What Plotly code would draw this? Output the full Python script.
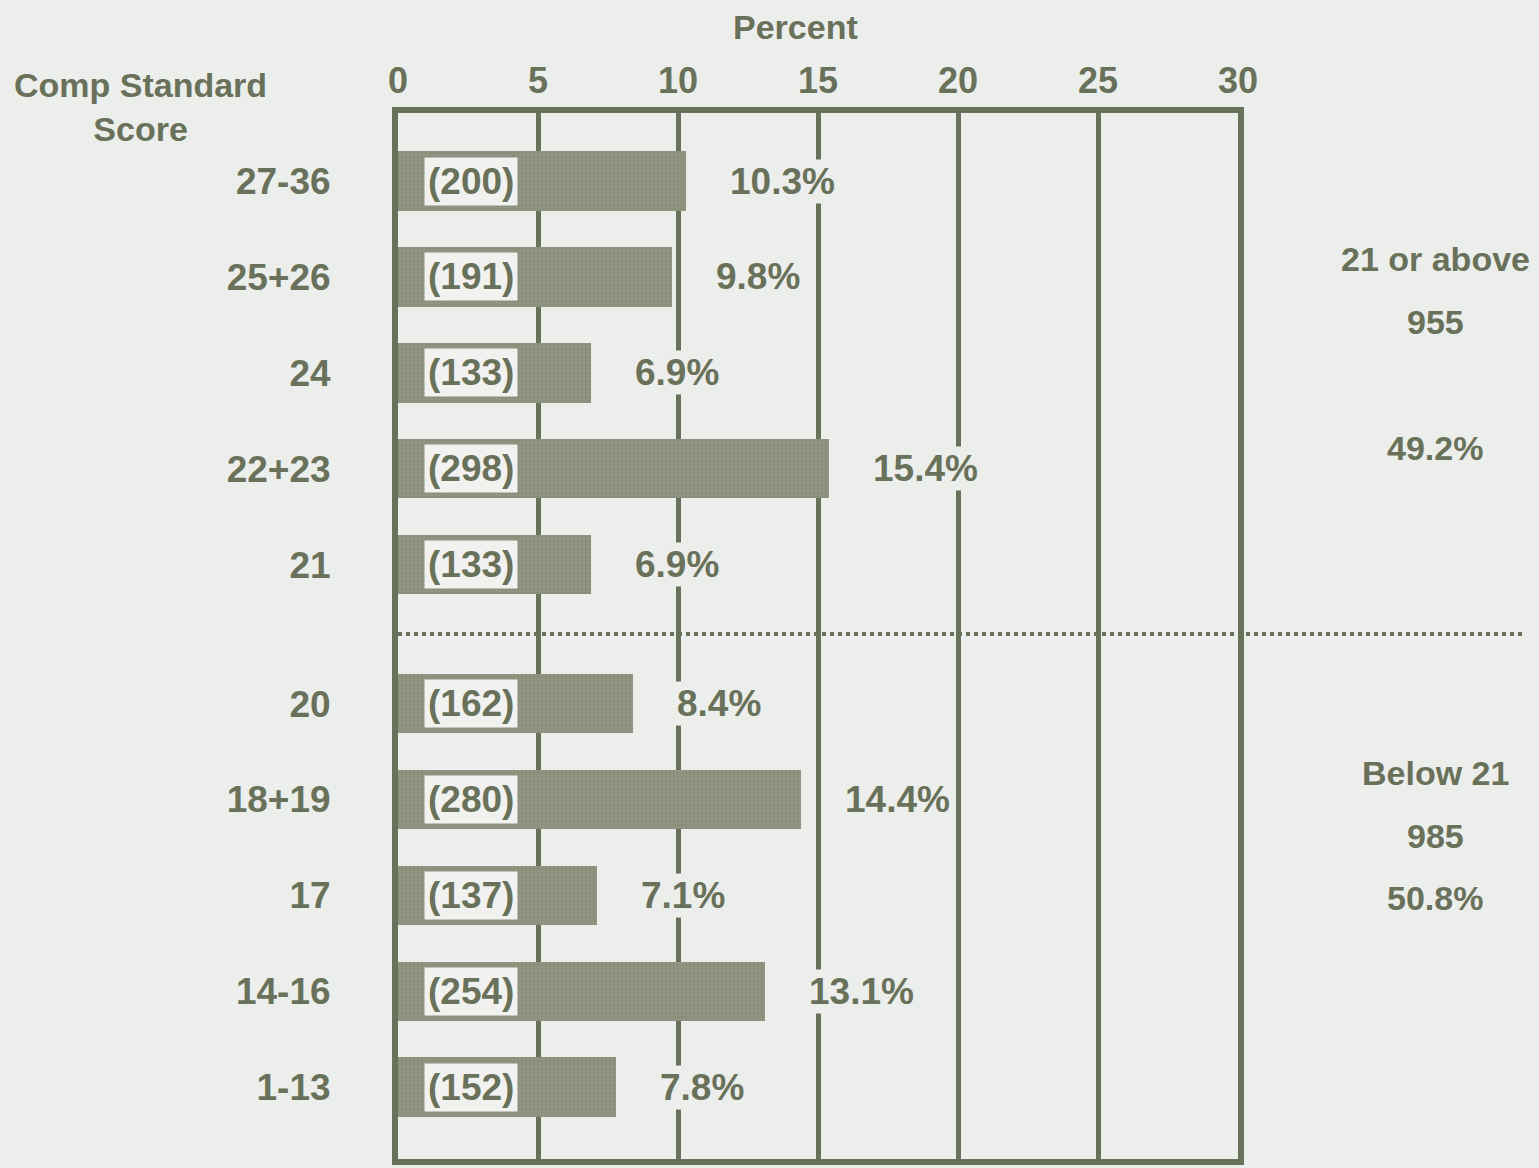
import plotly.graph_objects as go

categories = ["27-36", "25+26", "24", "22+23", "21", "20", "18+19", "17", "14-16", "1-13"]
counts = [200, 191, 133, 298, 133, 162, 280, 137, 254, 152]
percents = [10.3, 9.8, 6.9, 15.4, 6.9, 8.4, 14.4, 7.1, 13.1, 7.8]
x_ticks = [0, 5, 10, 15, 20, 25, 30]
upper_group = ["21 or above", "955", "49.2%"]
lower_group = ["Below 21", "985", "50.8%"]

BG = "#eceeeb"
INK = "#69715a"
BAR = "#8a8f7b"
FONT = "Liberation Sans Narrow, Arial Narrow, Liberation Sans, Arial, sans-serif"

# layout geometry (pixels)
W, H = 1539, 1168
ML, MR, MT, MB = 398, 301, 113, 3
PW, PH = W - ML - MR, H - MT - MB


def px(xp):
    return (xp - ML) / PW


def py(yp):
    return (H - MB - yp) / PH


# y positions: a gap separates the "21 or above" group from the "below 21" group
GAP = 0.45
ypos = [i if i < 5 else i + GAP for i in range(len(categories))]

fig = go.Figure()
fig.add_trace(go.Bar(
    x=percents, y=ypos, orientation="h", width=0.62,
    marker=dict(color=BAR, line=dict(width=0),
                pattern=dict(shape=".", fgcolor="#9a9e8b", bgcolor=BAR, size=4, solidity=0.3)),
    hoverinfo="skip", showlegend=False,
))

annotations = []
for y, c, p in zip(ypos, counts, percents):
    annotations.append(dict(
        x=2.6, y=y, xref="x", yref="y", text=f"<b>({c})</b>", showarrow=False,
        font=dict(family=FONT, size=37, color=INK), bgcolor="#f1f2ef", borderpad=3,
        xanchor="center", yanchor="middle"))
    annotations.append(dict(
        x=p, y=y, xref="x", yref="y", text=f"<b>{p}%</b>", showarrow=False,
        font=dict(family=FONT, size=37, color=INK), bgcolor=BG, borderpad=1,
        xanchor="left", yanchor="middle", xshift=42))

annotations.append(dict(x=px(795), y=py(27), xref="paper", yref="paper", text="<b>Percent</b>",
                        showarrow=False, xanchor="center", yanchor="middle",
                        font=dict(family=FONT, size=34, color=INK)))
annotations.append(dict(x=px(140), y=py(107), xref="paper", yref="paper",
                        text="<b>Comp Standard<br>Score</b>", showarrow=False, align="center",
                        xanchor="center", yanchor="middle",
                        font=dict(family=FONT, size=34, color=INK)))
for t, yy in zip(upper_group, [260, 323, 450]):
    annotations.append(dict(x=px(1435), y=py(yy), xref="paper", yref="paper",
                            text=f"<b>{t}</b>", showarrow=False, xanchor="center", yanchor="middle",
                            font=dict(family=FONT, size=34, color=INK)))
for t, yy in zip(lower_group, [777, 840, 903]):
    annotations.append(dict(x=px(1435), y=py(yy), xref="paper", yref="paper",
                            text=f"<b>{t}</b>", showarrow=False, xanchor="center", yanchor="middle",
                            font=dict(family=FONT, size=34, color=INK)))

shapes = [dict(type="line", xref="paper", yref="y", x0=0, x1=px(1525), y0=4 + (1 + GAP) / 2,
               y1=4 + (1 + GAP) / 2, line=dict(color=INK, width=4, dash="dot"), layer="above")]

fig.update_layout(
    width=W, height=H,
    margin=dict(l=ML, r=MR, t=MT, b=MB),
    paper_bgcolor=BG, plot_bgcolor=BG,
    bargap=0,
    xaxis=dict(range=[0, 30], side="top", tickvals=x_ticks, ticktext=[f"<b>{v}</b>" for v in x_ticks],
               tickfont=dict(family=FONT, size=36, color=INK), ticks="", showgrid=True,
               gridcolor=INK, gridwidth=5, zeroline=False, showline=True, linecolor=INK,
               linewidth=6, mirror=True, ticklabelstandoff=0, fixedrange=True),
    yaxis=dict(range=[10.2, -0.71], tickvals=ypos, ticktext=[f"<b>{c}</b>" for c in categories],
               tickfont=dict(family=FONT, size=37, color=INK), ticks="", showgrid=False,
               zeroline=False, showline=True, linecolor=INK, linewidth=6, mirror=True,
               ticklabelstandoff=54, fixedrange=True),
    annotations=annotations, shapes=shapes,
)

fig.write_html(
    "out.html",
    config={"displayModeBar": False},
    post_script=f"document.body.style.margin='0';document.body.style.background='{BG}';",
)
